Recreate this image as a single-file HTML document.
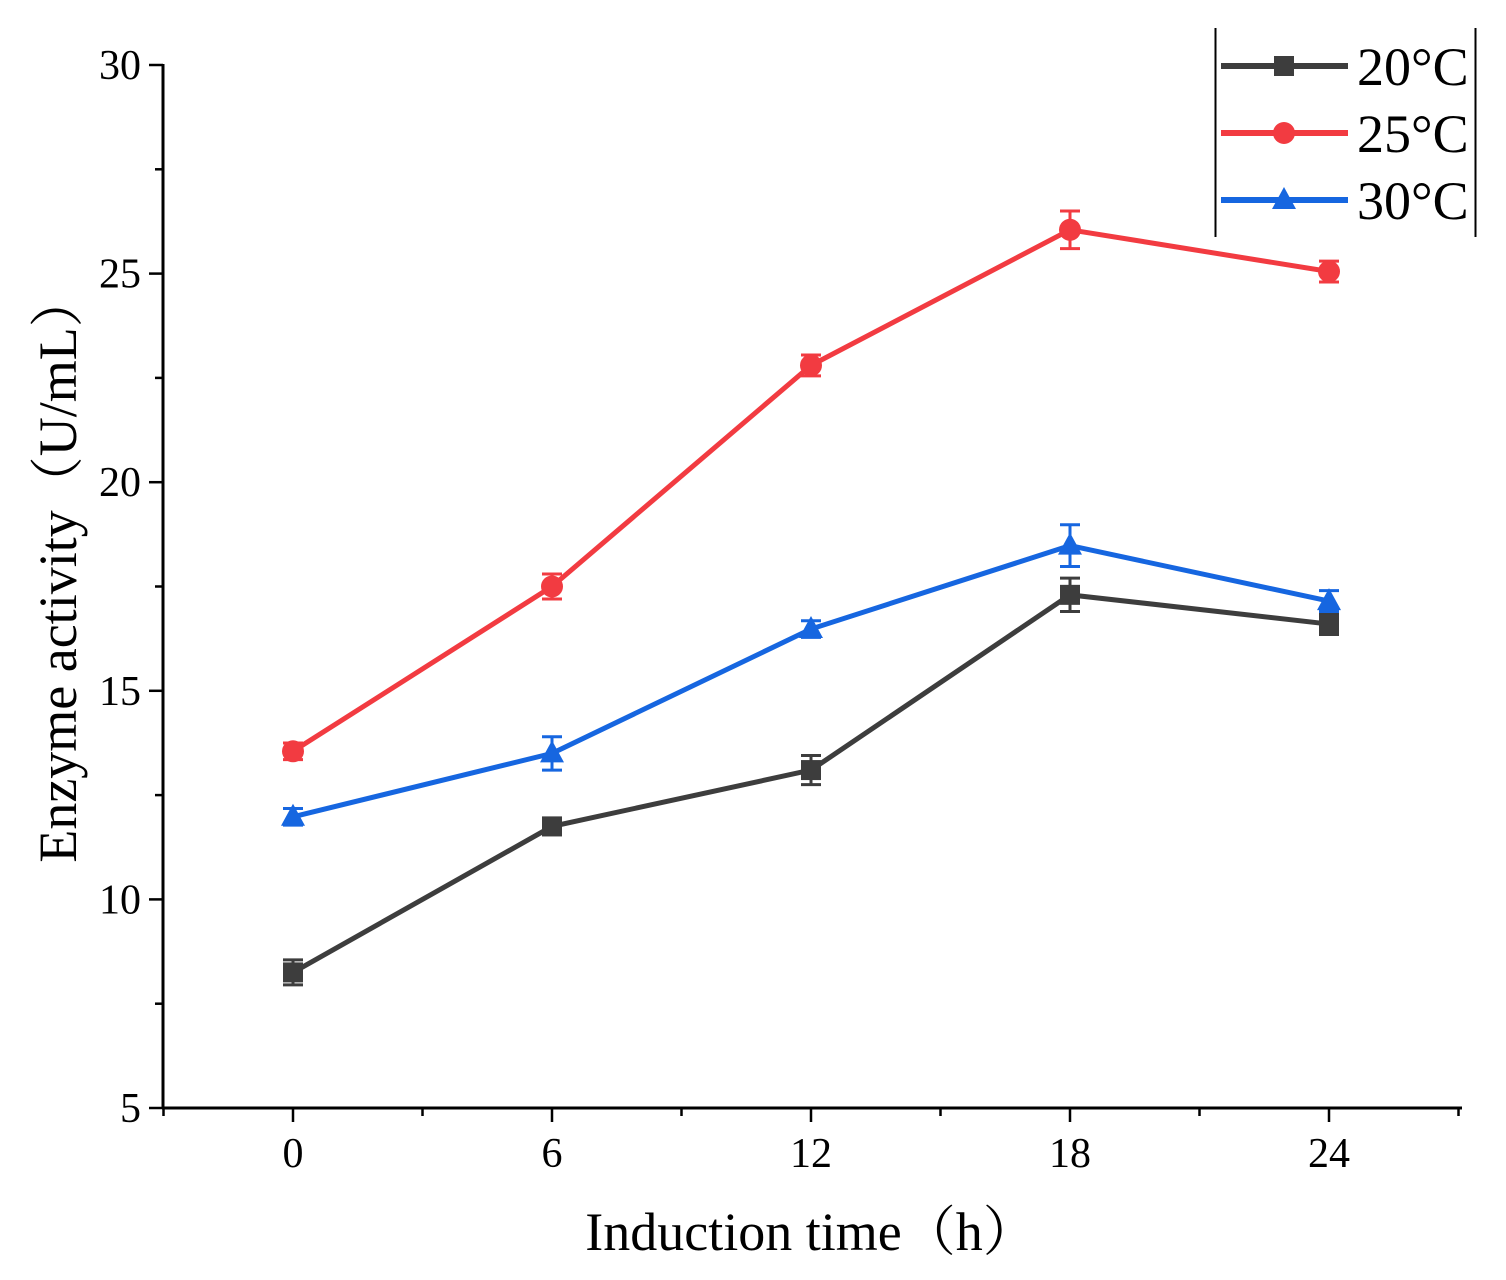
<!DOCTYPE html>
<html><head><meta charset="utf-8"><style>
body{margin:0;background:#fff;}
svg{display:block;font-family:"Liberation Serif","Noto Serif CJK SC",serif;}
</style></head><body>
<svg id="chart" width="1506" height="1280" viewBox="0 0 1506 1280">
<g id="axes"></g>
<g id="series"></g>
<g id="legend">
  <line x1="1215.5" y1="28" x2="1215.5" y2="237" stroke="#000" stroke-width="2"/>
  <line x1="1475.5" y1="28" x2="1475.5" y2="237" stroke="#000" stroke-width="2"/>
</g>
<text x="811" y="1250" font-size="54" text-anchor="middle">Induction time（h）</text>
<text transform="translate(76,568) rotate(-90)" font-size="54" text-anchor="middle">Enzyme activity（U/mL）</text>
</svg>
<script>
const hours=[0,6,12,18,24];
const xTicks=[0,6,12,18,24];
const yTicks=[5,10,15,20,25,30];
const seriesNames=["20°C","25°C","30°C"];
const s20=[8.25,11.75,13.1,17.3,16.6];
const s25=[13.55,17.5,22.8,26.05,25.05];
const s30=[11.98,13.5,16.48,18.48,17.15];
const e20=[0.3,0.2,0.35,0.4,0.25];
const e25=[0.2,0.3,0.25,0.45,0.25];
const e30=[0.2,0.4,0.2,0.5,0.25];
const colors=["#3d3d3d","#f23b41","#1666e0"];
const NS="http://www.w3.org/2000/svg";
const X=v=>293+v*(1329-293)/24;
const Y=v=>1108-(v-5)*(1108-65)/25;
function mk(tag,attrs,parent){const e=document.createElementNS(NS,tag);for(const k in attrs)e.setAttribute(k,attrs[k]);parent.appendChild(e);return e;}
const axes=document.getElementById('axes');
let el;
el=mk('line',{x1:162,y1:1108,x2:1462,y2:1108,stroke:'#000','stroke-width':3},axes);


el=mk('line',{x1:163,y1:64,x2:163,y2:1109,stroke:'#000','stroke-width':3},axes);


for(let h=-3;h<=27;h+=3){const x=X(h);if(x<163||x>1461)continue;const major=h%6===0;
el=mk('line',{x1:x,y1:1108,x2:x,y2:major?1122:1116,stroke:'#000','stroke-width':2.5},axes);

}
xTicks.forEach(t=>{el=mk('text',{x:X(t),y:1167,'font-size':42,'text-anchor':'middle'},axes);el.textContent=t;

});
for(let v=5;v<=30;v+=2.5){const major=v%5===0;
el=mk('line',{x1:major?149:155,y1:Y(v),x2:163,y2:Y(v),stroke:'#000','stroke-width':2.5},axes);

}
yTicks.forEach(t=>{el=mk('text',{x:141,y:Y(t)+14,'font-size':42,'text-anchor':'end'},axes);el.textContent=t;

});
const sg=document.getElementById('series');
function marker(kind,x,y,c,p){
 if(kind===0)return mk('rect',{x:x-10,y:y-10,width:20,height:20,fill:c},p);
 if(kind===1)return mk('circle',{cx:x,cy:y,r:11,fill:c},p);
 return mk('polygon',{points:`${x},${y-13} ${x+12},${y+9} ${x-12},${y+9}`,fill:c},p);
}
[[s20,e20],[s25,e25],[s30,e30]].forEach(([vals,errs],i)=>{
 const g=mk('g',{},sg);
 
 
 const pl=mk('polyline',{points:hours.map((h,j)=>X(h)+','+Y(vals[j])).join(' '),fill:'none',stroke:colors[i],'stroke-width':5},g);
 
 
 hours.forEach((h,j)=>{const x=X(h),y1=Y(vals[j]+errs[j]),y2=Y(vals[j]-errs[j]);
  const eb=mk('path',{d:`M${x-10},${y1}H${x+10}M${x},${y1}V${y2}M${x-10},${y2}H${x+10}`,stroke:colors[i],'stroke-width':3,fill:'none'},g);
  
  
  const m=marker(i,x,Y(vals[j]),colors[i],g);
  
  
 });
});
const lg=document.getElementById('legend');
const ly=[66,133,200];
seriesNames.forEach((n,i)=>{
 const g=mk('g',{},lg);
 
 
 mk('line',{x1:1221,y1:ly[i],x2:1348,y2:ly[i],stroke:colors[i],'stroke-width':6},g);
 marker(i,1284,ly[i],colors[i],g);
 const t=mk('text',{x:1357,y:ly[i]+19,'font-size':54},g);t.textContent=n;
});
</script>
</body></html>
